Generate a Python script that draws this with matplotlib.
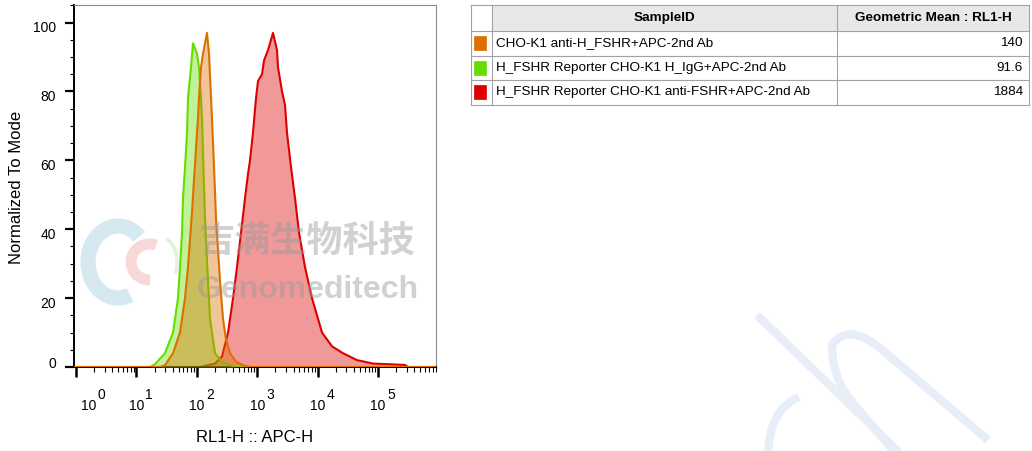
import matplotlib
matplotlib.use('Agg')
import matplotlib.pyplot as plt
import numpy as np
from matplotlib.patches import Rectangle, Arc, PathPatch
from matplotlib.path import Path
import matplotlib.transforms as mtransforms
from matplotlib.ticker import MultipleLocator, LogLocator, NullFormatter

plt.rcParams['font.family'] = ['Liberation Sans', 'DejaVu Sans']

# ---------------- data ----------------
sample_ids = ["CHO-K1 anti-H_FSHR+APC-2nd Ab",
              "H_FSHR Reporter CHO-K1 H_IgG+APC-2nd Ab",
              "H_FSHR Reporter CHO-K1 anti-FSHR+APC-2nd Ab"]
geo_means = ["140", "91.6", "1884"]
colors = ["#dd6f00", "#66dd00", "#dd0000"]

orange_x = [0.9, 24.6, 29.7, 40.4, 52.7, 56.9, 63.8, 71.5, 83.3, 100.7, 104.6, 108.7,
            117.4, 126.7, 147.5, 159.2, 178.6, 192.8, 208.1, 242.3, 271.6, 304.4,
            354.5, 445.8, 581.8, 760, 9.5e5]
orange_y = [0, 0, 0.5, 4, 10, 14, 20, 29, 45, 68, 72, 78,
            87, 91, 97, 91, 72, 58, 43, 25, 14, 8,
            4, 1.5, 0.5, 0, 0]

green_x = [0.9, 16.8, 20.3, 29.7, 40.4, 48.8, 52.7, 56.9, 59.1, 63.8, 68.9, 71.5,
           80.2, 86.5, 100.7, 108.7, 117.4, 121.9, 136.7, 153.2, 165.5, 200,
           261.3, 428.7, 9.5e5]
green_y = [0, 0, 0.8, 4, 10, 20, 29, 39, 49, 58, 68, 78,
           87, 94, 91, 87, 78, 72, 43, 25, 14, 4,
           1.5, 0, 0]

red_x = [0.9, 113, 200, 261, 329, 398, 463, 540, 628, 704, 760, 851, 955, 1031,
         1200, 1297, 1510, 1630, 1827, 2128, 2209, 2575, 2887, 3115, 3630, 4227,
         4923, 6185, 8075, 11830, 17310, 26350, 44900, 82600, 280000, 314000, 9.5e5]
red_y = [0, 0, 1, 3, 10, 20, 29, 39, 49, 56, 60, 68, 78, 83,
         85, 89, 92, 94, 97, 92, 87, 80, 76, 68, 58, 49,
         39, 29, 20, 10, 6, 4, 2, 1, 0.6, 0, 0]

y_ticks = [0, 20, 40, 60, 80, 100]
x_decades = [0, 1, 2, 3, 4, 5]

# ---------------- figure ----------------
W, H = 1032, 451
fig = plt.figure(figsize=(W / 100, H / 100), dpi=100)
fig.patch.set_facecolor('white')

ax = fig.add_axes([74 / W, 1 - 367 / H, (436 - 74) / W, (367 - 5) / H])
ax.set_xscale('log')
ax.set_xlim(10 ** -0.033, 10 ** 5.96)
ax.set_ylim(0, 105.1)

series = [(red_x, red_y, colors[2]), (green_x, green_y, colors[1]), (orange_x, orange_y, colors[0])]
for i, (xs, ys, c) in enumerate(series):
    ax.fill_between(xs, 0, ys, color=c, alpha=0.4, lw=0, zorder=2 + i)
    ax.plot(xs, ys, color=c, lw=1.5, zorder=2.5 + i, clip_on=True)

for s in ['left', 'bottom']:
    ax.spines[s].set_color('black')
    ax.spines[s].set_linewidth(1.4)
for s in ['top', 'right']:
    ax.spines[s].set_color('#8c8c8c')
    ax.spines[s].set_linewidth(0.8)

ax.yaxis.set_major_locator(plt.FixedLocator(y_ticks))
ax.yaxis.set_minor_locator(MultipleLocator(5))
ax.tick_params(axis='y', which='major', direction='out', length=6.5, width=1.6,
               labelsize=10, pad=6.5)
ax.tick_params(axis='y', which='minor', direction='out', length=3, width=0.8)

ax.xaxis.set_major_locator(plt.FixedLocator([10.0 ** k for k in x_decades]))
ax.xaxis.set_minor_locator(LogLocator(base=10, subs=np.arange(2, 10), numticks=30))
ax.xaxis.set_major_formatter(NullFormatter())
ax.xaxis.set_minor_formatter(NullFormatter())
ax.tick_params(axis='x', which='major', direction='out', length=7.5, width=1.8)
ax.tick_params(axis='x', which='minor', direction='out', length=3.5, width=0.8)

# custom "10^k" labels
xt = ax.get_xaxis_transform()
for k in x_decades:
    dx = 13 if k == 0 else 0
    ax.annotate("10", xy=(10.0 ** k, 0), xycoords=xt, xytext=(dx, -43),
                textcoords='offset pixels', ha='center', va='baseline',
                fontsize=10, annotation_clip=False)
    ax.annotate(str(k), xy=(10.0 ** k, 0), xycoords=xt, xytext=(dx + 9, -32),
                textcoords='offset pixels', ha='left', va='baseline',
                fontsize=10, annotation_clip=False)

fig.text(17 / W, 1 - 187 / H, "Normalized To Mode", rotation=90, ha='center',
         va='center', fontsize=12)
fig.text(255 / W, 1 - 437 / H, "RL1-H :: APC-H", ha='center', va='center', fontsize=12)

# ---------------- overlay (table + watermark) ----------------
ov = fig.add_axes([0, 0, 1, 1])
ov.set_xlim(0, W)
ov.set_ylim(H, 0)
ov.axis('off')

# faint logo decoration bottom right
deco = '#e8eef8'
p1 = Path([(757, 315), (905, 458)], [Path.MOVETO, Path.LINETO])
p2 = Path([(988, 440), (880, 348), (848, 322), (832, 345), (832, 378), (852, 402), (900, 458)],
          [Path.MOVETO, Path.LINETO, Path.CURVE3, Path.CURVE3, Path.CURVE3, Path.CURVE3, Path.LINETO])
p3 = Path([(799, 397), (768, 410), (768, 458)], [Path.MOVETO, Path.CURVE3, Path.CURVE3])
for p in (p1, p2, p3):
    ov.add_patch(PathPatch(p, fill=False, ec=deco, lw=6, capstyle='butt', zorder=0))

# faint logo left
ov.add_patch(Arc((118, 262), 60, 72, theta1=70, theta2=310, color='#cfe6ef', lw=11, alpha=0.85, zorder=1))
ov.add_patch(Arc((150, 262), 38, 36, theta1=90, theta2=290, color='#f6d3d3', lw=8, alpha=0.85, zorder=1))
ov.add_patch(Arc((162, 262), 30, 48, theta1=-80, theta2=40, color='#dcefd8', lw=2.5, alpha=0.85, zorder=1))

# watermark text
ov.text(307, 242, "吉满生物科技", ha='center', va='center', fontsize=26, fontweight='bold',
        family=['Noto Sans CJK SC', 'DejaVu Sans'], color='#9a9a9a', alpha=0.45, zorder=3)
ov.text(308, 298, "Genomeditech", ha='center', va='baseline', fontsize=23, fontweight='bold',
        color='#9a9a9a', alpha=0.45, zorder=3)

# table
cols = [470.5, 492, 837, 1029]
rows = [5, 31, 55.5, 80, 104.5]
line_c = '#a3a3a3'
ov.add_patch(Rectangle((cols[1], rows[0]), cols[3] - cols[1], rows[1] - rows[0],
                       fc='#e8e8e8', ec='none', zorder=4))
for yy in rows:
    ov.plot([cols[0], cols[3]], [yy, yy], color=line_c, lw=0.8, zorder=5)
for xx in cols:
    ov.plot([xx, xx], [rows[0], rows[-1]], color=line_c, lw=0.8, zorder=5)

hy = (rows[0] + rows[1]) / 2
ov.text((cols[1] + cols[2]) / 2, hy, "SampleID", ha='center', va='center',
        fontsize=9.7, fontweight='bold', zorder=6)
ov.text((cols[2] + cols[3]) / 2, hy, "Geometric Mean : RL1-H", ha='center', va='center',
        fontsize=9.7, fontweight='bold', zorder=6)

for i, (sid, gm, c) in enumerate(zip(sample_ids, geo_means, colors)):
    cy = (rows[i + 1] + rows[i + 2]) / 2
    ov.add_patch(Rectangle((474, cy - 7), 12, 14, fc=c, ec=c, lw=0.5, zorder=6))
    ov.text(cols[1] + 4, cy, sid, ha='left', va='center', fontsize=9.7, zorder=6)
    ov.text(cols[3] - 6, cy, gm, ha='right', va='center', fontsize=9.7, zorder=6)

# shift y tick labels like the reference
fig.canvas.draw()
for t, v in zip(ax.yaxis.get_major_ticks(), y_ticks):
    off = 5 if v == 0 else -4
    t.label1.set_transform(t.label1.get_transform() +
                           mtransforms.ScaledTranslation(0, off / 100, fig.dpi_scale_trans))

fig.savefig('out.png', dpi=100, facecolor='white')
